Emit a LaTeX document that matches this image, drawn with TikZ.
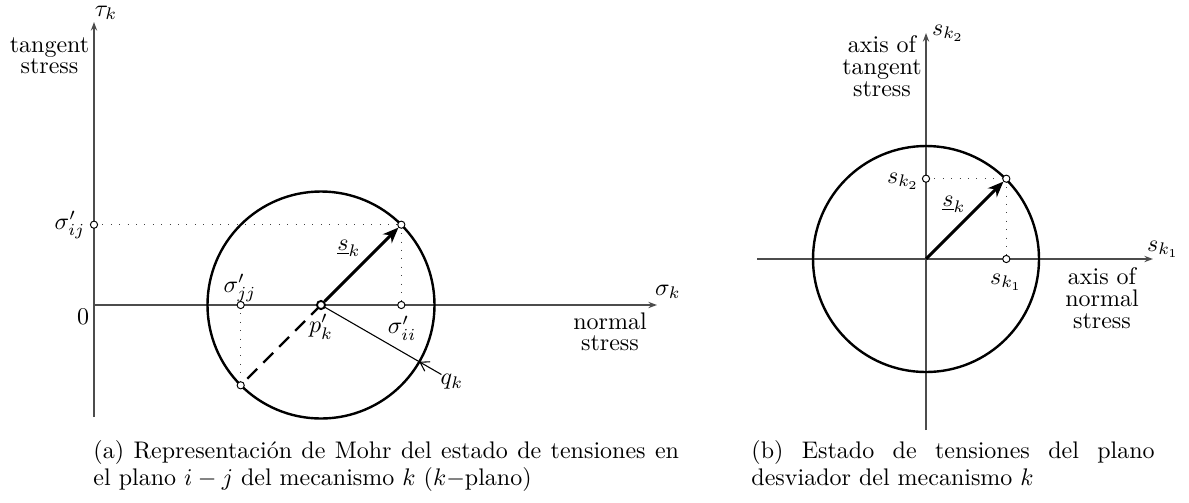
\documentclass[tikz,border=0pt]{standalone}
\usepackage{fontspec}
\usetikzlibrary{arrows.meta}
\pgfdeclarelayer{bg}\pgfsetlayers{bg,main}
\tikzset{
  ax/.style={line width=0.6pt, draw=black!70, -{Stealth[length=3.6pt,width=2.6pt]}},
  ring/.style={line width=1pt},
  vec/.style={line width=1.25pt, -{Stealth[length=6.5pt,width=5.2pt,inset=2pt]}},
  dashvec/.style={line width=1pt, dash pattern=on 5.8pt off 3.6pt},
  guide/.style={line width=0.45pt, draw=black!75, dash pattern=on 0.45pt off 3.05pt},
  thin/.style={line width=0.45pt},
  pointer/.style={line width=0.45pt, -{Straight Barb[length=3.5pt,width=4.5pt]}},
  dot/.style={circle, draw, fill=white, inner sep=0pt, minimum size=3pt, line width=0.4pt},
  bigdot/.style={dot, minimum size=3.4pt, line width=0.8pt},
  lbl/.style={inner sep=1pt},
  stackL/.style={lbl, align=center, font=\fontsize{10pt}{8.6pt}\selectfont},
  stackR/.style={lbl, align=center, font=\fontsize{10pt}{9.2pt}\selectfont},
  cap/.style={text width=#1, align=justify, inner sep=0pt, anchor=base west}
}
\begin{document}
\begin{tikzpicture}[x=0.41667pt,y=-0.41667pt]
\useasboundingbox (0,0) rectangle (1189,502);
% ---------- left panel ----------
\coordinate (Lybot) at (94,417);
\coordinate (Lytop) at (94,22);
\coordinate (Lo) at (94,305);
\coordinate (Lxend) at (657,305);
\coordinate (Qtail) at (441.4,374.5);
\coordinate (Qpt) at (419.3,361.75);
\node[bigdot] (pk) at (321,305) {};
\node[dot] (A) at (401.3,224.7) {};
\node[dot] (B) at (240.7,385.3) {};
\node[dot] (sij) at (94,224.7) {};
\node[dot] (sjj) at (240.7,305) {};
\node[dot] (sii) at (401.3,305) {};
\begin{pgfonlayer}{bg}
  \draw[ax] (Lybot) -- (Lytop);
  \draw[ax] (Lo) -- (Lxend);
  \draw[ring] (pk.center) circle[radius=113.5];
  \draw[guide] (sij.center) -- (A.center);
  \draw[guide] (A.center) -- (sii.center);
  \draw[guide] (sjj.center) -- (B.center);
  \draw[dashvec] (pk.center) -- (B.center);
  \draw[thin] (pk.center) -- (Qpt);
\end{pgfonlayer}
\draw[vec] (pk) -- (A);
\draw[pointer] (Qtail) -- (Qpt);
\node[inner sep=0pt] (taulbl) at (106,13) {$\tau_k$};
\node[stackL] (tslbl) at (49.5,56) {tangent\\stress};
\node[lbl] (sijlbl) at (70,225) {$\sigma'_{ij}$};
\node[lbl] (zerolbl) at (83,317) {$0$};
\node[lbl] (sjjlbl) at (240,288) {$\sigma'_{jj}$};
\node[lbl] (pklbl) at (321,327) {$p'_k$};
\node[lbl] (siilbl) at (402,328) {$\sigma'_{ii}$};
\node[lbl] (sigklbl) at (668,292) {$\sigma_k$};
\node[stackL] (nslbl) at (610,332) {normal\\stress};
\node[lbl] (sklbl) at (349,248) {$\underline{s}_k$};
\node[lbl] (qklbl) at (452,382) {$q_k$};
\node[cap=244pt] (capa) at (93,458) {\baselineskip=11.25pt
(a) Representación de Mohr del estado de tensiones en\linebreak
el plano $i-j$ del mecanismo $k$ ($k-$plano)\par};
% ---------- right panel ----------
\coordinate (O) at (926,259);
\coordinate (Rybot) at (926,430);
\coordinate (Rytop) at (926,33);
\coordinate (Rxbeg) at (757,259);
\coordinate (Rxend) at (1153,259);
\node[dot] (R) at (1006.3,178.7) {};
\node[dot] (s2) at (926,178.7) {};
\node[dot] (s1) at (1006.3,259) {};
\begin{pgfonlayer}{bg}
  \draw[ax] (Rybot) -- (Rytop);
  \draw[ax] (Rxbeg) -- (Rxend);
  \draw[ring] (O) circle[radius=113];
  \draw[guide] (s2.center) -- (R.center);
  \draw[guide] (R.center) -- (s1.center);
\end{pgfonlayer}
\draw[vec] (O) -- (R);
\node[lbl] (sk2top) at (948,33) {$s_{k_2}$};
\node[stackR] (atlbl) at (882,66) {axis of\\tangent\\stress};
\node[lbl] (sk2lbl) at (903,181) {$s_{k_2}$};
\node[lbl] (skrlbl) at (954,204) {$\underline{s}_k$};
\node[lbl] (sk1right) at (1163,249) {$s_{k_1}$};
\node[lbl] (sk1lbl) at (1006,282) {$s_{k_1}$};
\node[stackR] (anlbl) at (1102,298) {axis of\\normal\\stress};
\node[cap=168pt] (capb) at (751,458) {\baselineskip=11.25pt
(b) Estado de tensiones del plano\linebreak
desviador del mecanismo $k$\par};
\end{tikzpicture}
\end{document}
